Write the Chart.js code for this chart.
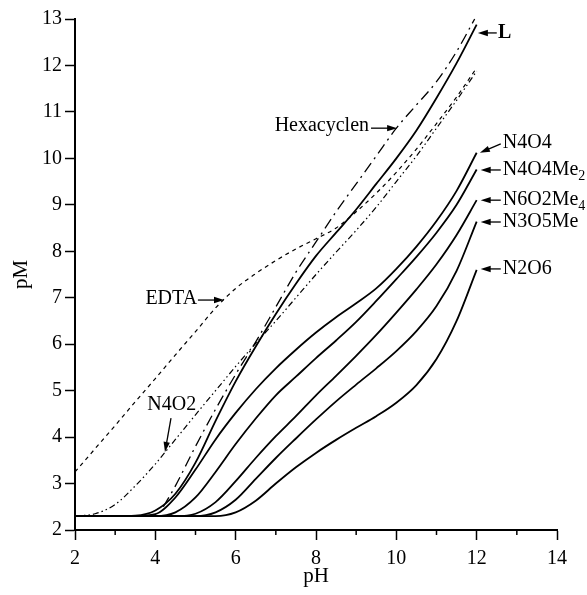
<!DOCTYPE html>
<html>
<head>
<meta charset="utf-8">
<script src="https://cdn.jsdelivr.net/npm/chart.js@4.4.1/dist/chart.umd.min.js"></script>
<style>
html,body{margin:0;padding:0;background:#fff;}
#wrap{width:587px;height:595px;position:relative;}
</style>
</head>
<body>
<div id="wrap"><canvas id="c" width="587" height="595"></canvas></div>
<script>
// ---- data (pH, pM) ----
const L_pH   = [2, 3, 3.5, 4, 4.5, 5, 5.5, 6, 6.5, 7, 7.5, 8, 8.5, 9, 9.5, 10, 10.5, 11, 11.5, 12];
const L_pM   = [2.3, 2.3, 2.31, 2.42, 2.78, 3.45, 4.35, 5.2, 5.95, 6.65, 7.3, 7.9, 8.4, 8.9, 9.45, 10.0, 10.6, 11.3, 12.05, 12.88];

const HEX_pH = [4.2, 4.5, 5, 5.5, 6, 6.5, 7, 7.5, 8, 8.5, 9, 9.5, 10, 10.5, 11, 11.5, 11.95];
const HEX_pM = [2.5, 2.95, 3.8, 4.6, 5.35, 6.05, 6.8, 7.55, 8.2, 8.85, 9.45, 10.05, 10.65, 11.15, 11.65, 12.3, 13.0];

const EDTA_pH = [2, 2.5, 3, 3.5, 4, 4.5, 5, 5.5, 6, 6.5, 7, 7.5, 8, 8.5, 9, 9.5, 10, 10.5, 11, 11.5, 12];
const EDTA_pM = [3.25, 3.75, 4.25, 4.76, 5.26, 5.77, 6.27, 6.78, 7.2, 7.52, 7.8, 8.05, 8.27, 8.5, 8.85, 9.25, 9.7, 10.2, 10.75, 11.32, 11.95];

const N4O2_pH = [2, 2.5, 3, 3.5, 4, 4.5, 5, 5.5, 6, 6.5, 7, 7.5, 8, 8.5, 9, 9.5, 10, 10.5, 11, 11.5, 12];
const N4O2_pM = [2.3, 2.35, 2.55, 2.95, 3.42, 3.95, 4.48, 5.0, 5.52, 6.02, 6.5, 7.0, 7.5, 7.98, 8.45, 8.95, 9.5, 10.05, 10.65, 11.25, 11.88];

const N4O4_pH = [2, 3, 3.5, 4, 4.5, 5, 5.5, 6, 6.5, 7, 7.5, 8, 8.5, 9, 9.5, 10, 10.5, 11, 11.5, 12];
const N4O4_pM = [2.3, 2.3, 2.3, 2.34, 2.7, 3.3, 3.95, 4.52, 5.03, 5.48, 5.88, 6.25, 6.58, 6.88, 7.2, 7.62, 8.1, 8.65, 9.3, 10.12];

const N4O4Me2_pH = [2, 4, 4.5, 5, 5.5, 6, 6.5, 7, 7.5, 8, 8.5, 9, 9.5, 10, 10.5, 11, 11.5, 12];
const N4O4Me2_pM = [2.3, 2.3, 2.38, 2.7, 3.25, 3.85, 4.4, 4.9, 5.3, 5.7, 6.08, 6.48, 6.93, 7.4, 7.88, 8.4, 9.0, 9.76];

const N6O2Me4_pH = [2, 4.5, 5, 5.5, 6, 6.5, 7, 7.5, 8, 8.5, 9, 9.5, 10, 10.5, 11, 11.5, 12];
const N6O2Me4_pM = [2.3, 2.3, 2.35, 2.6, 3.05, 3.55, 4.02, 4.45, 4.9, 5.32, 5.75, 6.2, 6.68, 7.18, 7.72, 8.35, 9.1];

const N3O5Me_pH = [2, 5, 5.5, 6, 6.5, 7, 7.5, 8, 8.5, 9, 9.5, 10, 10.5, 11, 11.5, 12];
const N3O5Me_pM = [2.3, 2.3, 2.38, 2.65, 3.1, 3.55, 3.97, 4.38, 4.77, 5.13, 5.48, 5.85, 6.28, 6.82, 7.58, 8.64];

const N2O6_pH = [2, 5.5, 6, 6.5, 7, 7.5, 8, 8.5, 9, 9.5, 10, 10.5, 11, 11.5, 12];
const N2O6_pM = [2.3, 2.3, 2.38, 2.63, 3.0, 3.35, 3.66, 3.94, 4.2, 4.45, 4.74, 5.12, 5.68, 6.5, 7.6];

const X_TICKS = [2, 4, 6, 8, 10, 12, 14];
const X_MINOR = [3, 5, 7, 9, 11, 13];
const Y_TICKS = [2, 3, 4, 5, 6, 7, 8, 9, 10, 11, 12, 13];

// annotation labels (data coordinates)
const LABELS = [
  {parts:[["L",false]], bold:true, x:12.53, y:12.70, align:'left', arrow:[12.50,12.70,12.03,12.70]},
  {parts:[["Hexacyclen",false]], x:9.32, y:10.70, align:'right', arrow:[9.37,10.65,10.02,10.65]},
  {parts:[["N4O4",false]], x:12.65, y:10.33, align:'left', arrow:[12.60,10.31,12.08,10.12]},
  {parts:[["N4O4Me",false],["2",true]], x:12.65, y:9.75, align:'left', arrow:[12.60,9.75,12.10,9.75]},
  {parts:[["N6O2Me",false],["4",true]], x:12.65, y:9.10, align:'left', arrow:[12.60,9.10,12.10,9.10]},
  {parts:[["N3O5Me",false]], x:12.65, y:8.63, align:'left', arrow:[12.60,8.63,12.10,8.63]},
  {parts:[["N2O6",false]], x:12.65, y:7.62, align:'left', arrow:[12.60,7.62,12.10,7.62]},
  {parts:[["EDTA",false]], x:5.04, y:6.97, align:'right', arrow:[5.06,6.95,5.71,6.95]},
  {parts:[["N4O2",false]], x:4.41, y:4.69, align:'center', arrow:[4.39,4.41,4.24,3.68]}
];

function pts(xs, ys){ return xs.map((x,i)=>({x:x, y:ys[i]})); }

const FONT = "'Liberation Serif', 'DejaVu Serif', serif";
Chart.defaults.font.family = FONT;
Chart.defaults.color = '#000';

function ds(label, xs, ys, dash, width){
  return {label:label, data:pts(xs,ys), borderColor:'#000', borderWidth:width,
    borderDash:dash, pointRadius:0, fill:false, cubicInterpolationMode:'monotone', clip:6};
}

const annotPlugin = {
  id:'annot',
  afterDraw(chart){
    const ctx = chart.ctx, xs = chart.scales.x, ys = chart.scales.y;
    ctx.save();
    // minor ticks on x axis
    ctx.strokeStyle = '#000'; ctx.lineWidth = 1.5;
    const yb = chart.chartArea.bottom;
    X_MINOR.forEach(v=>{
      const px = xs.getPixelForValue(v);
      ctx.beginPath(); ctx.moveTo(px, yb); ctx.lineTo(px, yb+5); ctx.stroke();
    });
    // labels and arrows
    LABELS.forEach(l=>{
      const [ax1, ay1, ax2, ay2] = l.arrow;
      const x1 = xs.getPixelForValue(ax1), y1 = ys.getPixelForValue(ay1);
      const x2 = xs.getPixelForValue(ax2), y2 = ys.getPixelForValue(ay2);
      ctx.strokeStyle = '#000'; ctx.fillStyle = '#000'; ctx.lineWidth = 1.3;
      const ang = Math.atan2(y2-y1, x2-x1);
      const hl = 10, hw = 3.2;
      ctx.beginPath(); ctx.moveTo(x1,y1);
      ctx.lineTo(x2 - Math.cos(ang)*hl*0.8, y2 - Math.sin(ang)*hl*0.8); ctx.stroke();
      ctx.beginPath();
      ctx.moveTo(x2,y2);
      ctx.lineTo(x2 - Math.cos(ang)*hl - Math.sin(ang)*hw, y2 - Math.sin(ang)*hl + Math.cos(ang)*hw);
      ctx.lineTo(x2 - Math.cos(ang)*hl + Math.sin(ang)*hw, y2 - Math.sin(ang)*hl - Math.cos(ang)*hw);
      ctx.closePath(); ctx.fill();
      // text
      const px = xs.getPixelForValue(l.x), py = ys.getPixelForValue(l.y);
      const mainFont = (l.bold ? 'bold ' : '') + '20px ' + FONT;
      const subFont = '14px ' + FONT;
      let total = 0;
      l.parts.forEach(p=>{ ctx.font = p[1] ? subFont : mainFont; total += ctx.measureText(p[0]).width; });
      let sx = l.align === 'left' ? px : (l.align === 'right' ? px - total : px - total/2);
      ctx.textBaseline = 'middle'; ctx.textAlign = 'left';
      l.parts.forEach(p=>{
        ctx.font = p[1] ? subFont : mainFont;
        ctx.fillText(p[0], sx, p[1] ? py + 6 : py);
        sx += ctx.measureText(p[0]).width;
      });
    });
    ctx.restore();
  }
};

new Chart(document.getElementById('c'), {
  type:'line',
  data:{datasets:[
    ds('L', L_pH, L_pM, [], 1.8),
    ds('Hexacyclen', HEX_pH, HEX_pM, [11,5,2,5], 1.3),
    ds('EDTA', EDTA_pH, EDTA_pM, [4,4], 1.2),
    ds('N4O2', N4O2_pH, N4O2_pM, [6,3,1.5,3,1.5,3], 1.2),
    ds('N4O4', N4O4_pH, N4O4_pM, [], 1.8),
    ds('N4O4Me2', N4O4Me2_pH, N4O4Me2_pM, [], 1.8),
    ds('N6O2Me4', N6O2Me4_pH, N6O2Me4_pM, [], 1.8),
    ds('N3O5Me', N3O5Me_pH, N3O5Me_pM, [], 1.8),
    ds('N2O6', N2O6_pH, N2O6_pM, [], 1.8)
  ]},
  options:{
    responsive:false, animation:false,
    layout:{padding:{top:19, right:30, left:0, bottom:0}},
    plugins:{legend:{display:false}, tooltip:{enabled:false}},
    scales:{
      x:{type:'linear', min:2, max:14,
        afterBuildTicks(s){ s.ticks = X_TICKS.map(v=>({value:v})); },
        afterFit(s){ s.height = 65; },
        ticks:{font:{size:20, family:FONT}, color:'#000', padding:7, maxRotation:0, autoSkip:false},
        grid:{drawOnChartArea:false, drawTicks:true, tickLength:10, tickColor:'#000', tickWidth:1.5},
        border:{display:true, color:'#000', width:2},
        title:{display:true, text:'pH', font:{size:21, family:FONT}, color:'#000', padding:{top:0,bottom:6}}
      },
      y:{type:'linear', min:2, max:13,
        afterBuildTicks(s){ s.ticks = Y_TICKS.map(v=>({value:v})); },
        afterFit(s){ s.width = 75; },
        ticks:{font:{size:20, family:FONT}, color:'#000', padding:3, autoSkip:false},
        grid:{drawOnChartArea:false, drawTicks:true, tickLength:10, tickColor:'#000', tickWidth:1.5},
        border:{display:true, color:'#000', width:2},
        title:{display:true, text:'pM', font:{size:21, family:FONT}, color:'#000', padding:{top:9,bottom:0}}
      }
    }
  },
  plugins:[annotPlugin]
});
</script>
</body>
</html>
